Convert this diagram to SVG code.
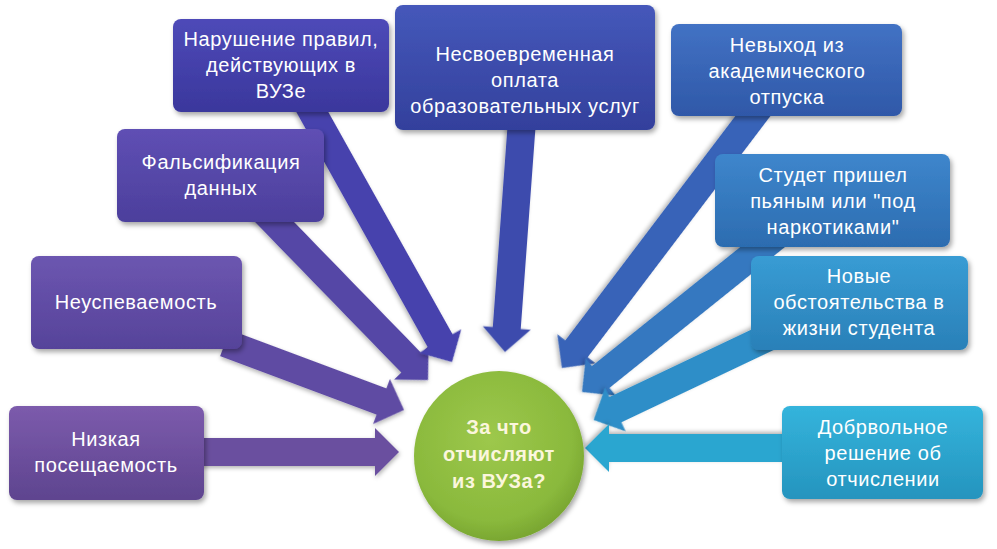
<svg xmlns="http://www.w3.org/2000/svg" width="997" height="549" viewBox="0 0 997 549">
<style>
.t{font-family:"Liberation Sans","Open Sans",sans-serif;font-size:20px;fill:#ffffff;text-anchor:middle;letter-spacing:0.6px}
.c{font-family:"Liberation Sans","Open Sans",sans-serif;font-size:20px;font-weight:bold;fill:#fbf6dc;text-anchor:middle;letter-spacing:0.5px}
.box{filter:url(#sh)}
.arr{filter:url(#sh2)}
</style>
<defs>
<filter id="sh" x="-10%" y="-10%" width="125%" height="130%"><feDropShadow dx="2" dy="3" stdDeviation="2.5" flood-color="#000" flood-opacity="0.35"/></filter>
<filter id="sh2" x="-10%" y="-30%" width="125%" height="160%"><feDropShadow dx="1" dy="2" stdDeviation="2" flood-color="#000" flood-opacity="0.3"/></filter>
<linearGradient id="g1" x1="0" y1="0" x2="0" y2="1"><stop offset="0" stop-color="#7c5bac"/><stop offset="1" stop-color="#5e448f"/></linearGradient>
<linearGradient id="g2" x1="0" y1="0" x2="0" y2="1"><stop offset="0" stop-color="#6c56b0"/><stop offset="1" stop-color="#56439a"/></linearGradient>
<linearGradient id="g3" x1="0" y1="0" x2="0" y2="1"><stop offset="0" stop-color="#5f4fb4"/><stop offset="1" stop-color="#4c3f9c"/></linearGradient>
<linearGradient id="g4" x1="0" y1="0" x2="0" y2="1"><stop offset="0" stop-color="#4e4ab8"/><stop offset="1" stop-color="#3a379c"/></linearGradient>
<linearGradient id="g5" x1="0" y1="0" x2="0" y2="1"><stop offset="0" stop-color="#4558ba"/><stop offset="1" stop-color="#33409c"/></linearGradient>
<linearGradient id="g6" x1="0" y1="0" x2="0" y2="1"><stop offset="0" stop-color="#4272c4"/><stop offset="1" stop-color="#2f58a8"/></linearGradient>
<linearGradient id="g7" x1="0" y1="0" x2="0" y2="1"><stop offset="0" stop-color="#3e86cc"/><stop offset="1" stop-color="#2c6cb0"/></linearGradient>
<linearGradient id="g8" x1="0" y1="0" x2="0" y2="1"><stop offset="0" stop-color="#389cd4"/><stop offset="1" stop-color="#2a80b8"/></linearGradient>
<linearGradient id="g9" x1="0" y1="0" x2="0" y2="1"><stop offset="0" stop-color="#34b4dc"/><stop offset="1" stop-color="#2594be"/></linearGradient>
<radialGradient id="gc" cx="0.45" cy="0.4" r="0.6"><stop offset="0" stop-color="#9dc84c"/><stop offset="0.8" stop-color="#8ab93c"/><stop offset="1" stop-color="#7aa732"/></radialGradient>
</defs>

<g id="connectors">
<path class="arr" fill="#6b4f9f" transform="translate(190,452)" d="M0,-14 H185 V-24 L209,0 L185,24 V14 H0 Z"/>
<path class="arr" fill="#5f4ca3" transform="translate(225,343) rotate(20.5)" d="M0,-14 H167.1 V-24 L191.1,0 L167.1,24 V14 H0 Z"/>
<path class="arr" fill="#5546a6" transform="translate(258,205) rotate(45.83)" d="M0,-14 H220 V-24 L244,0 L220,24 V14 H0 Z"/>
<path class="arr" fill="#4643ad" transform="translate(300,90) rotate(60.8)" d="M0,-14 H287.6 V-24 L311.6,0 L287.6,24 V14 H0 Z"/>
<path class="arr" fill="#3c4cad" transform="translate(522,120) rotate(94.19)" d="M0,-14 H208.6 V-24 L232.6,0 L208.6,24 V14 H0 Z"/>
<path class="arr" fill="#3764b8" transform="translate(765,100) rotate(127.15)" d="M0,-14 H312.2 V-24 L336.2,0 L312.2,24 V14 H0 Z"/>
<path class="arr" fill="#3478c0" transform="translate(790,225) rotate(141.24)" d="M0,-14 H242.7 V-24 L266.7,0 L242.7,24 V14 H0 Z"/>
<path class="arr" fill="#2f8ec8" transform="translate(800,322) rotate(154.6)" d="M0,-14 H204.4 V-24 L228.4,0 L204.4,24 V14 H0 Z"/>
<path class="arr" fill="#2aa6d0" transform="translate(800,448) rotate(180)" d="M0,-14 H191 V-24 L215,0 L191,24 V14 H0 Z"/>
</g>

<g id="n1"><rect class="box" x="9" y="406" width="195" height="94" rx="8" fill="url(#g1)"/>
<text class="t" x="106" y="446">Низкая</text><text class="t" x="106" y="472">посещаемость</text></g>

<g id="n2"><rect class="box" x="31" y="256" width="211" height="93" rx="8" fill="url(#g2)"/>
<text class="t" x="136" y="309">Неуспеваемость</text></g>

<g id="n3"><rect class="box" x="117" y="129" width="207" height="93" rx="8" fill="url(#g3)"/>
<text class="t" x="221" y="169">Фальсификация</text><text class="t" x="221" y="195">данных</text></g>

<g id="n4"><rect class="box" x="173" y="19" width="216" height="93" rx="8" fill="url(#g4)"/>
<text class="t" x="281" y="46">Нарушение правил,</text><text class="t" x="281" y="72">действующих в</text><text class="t" x="281" y="98">ВУЗе</text></g>

<g id="n5"><rect class="box" x="395" y="5" width="260" height="125" rx="8" fill="url(#g5)"/>
<text class="t" x="525" y="61">Несвоевременная</text><text class="t" x="525" y="87">оплата</text><text class="t" x="525" y="113">образовательных услуг</text></g>

<g id="n6"><rect class="box" x="671" y="24" width="231" height="92" rx="8" fill="url(#g6)"/>
<text class="t" x="787" y="52">Невыход из</text><text class="t" x="787" y="78">академического</text><text class="t" x="787" y="104">отпуска</text></g>

<g id="n7"><rect class="box" x="715" y="154" width="235" height="93" rx="8" fill="url(#g7)"/>
<text class="t" x="833" y="182">Студет пришел</text><text class="t" x="833" y="208">пьяным или "под</text><text class="t" x="833" y="234">наркотиками"</text></g>

<g id="n8"><rect class="box" x="751" y="256" width="217" height="94" rx="8" fill="url(#g8)"/>
<text class="t" x="859" y="283">Новые</text><text class="t" x="859" y="309">обстоятельства в</text><text class="t" x="859" y="335">жизни студента</text></g>

<g id="n9"><rect class="box" x="782" y="406" width="201" height="93" rx="8" fill="url(#g9)"/>
<text class="t" x="883" y="434">Добрвольное</text><text class="t" x="883" y="460">решение об</text><text class="t" x="883" y="486">отчислении</text></g>

<g id="center"><circle class="box" cx="499" cy="456" r="85" fill="url(#gc)"/>
<text class="c" x="499" y="434">За что</text><text class="c" x="499" y="461">отчисляют</text><text class="c" x="499" y="488">из ВУЗа?</text></g>
</svg>
